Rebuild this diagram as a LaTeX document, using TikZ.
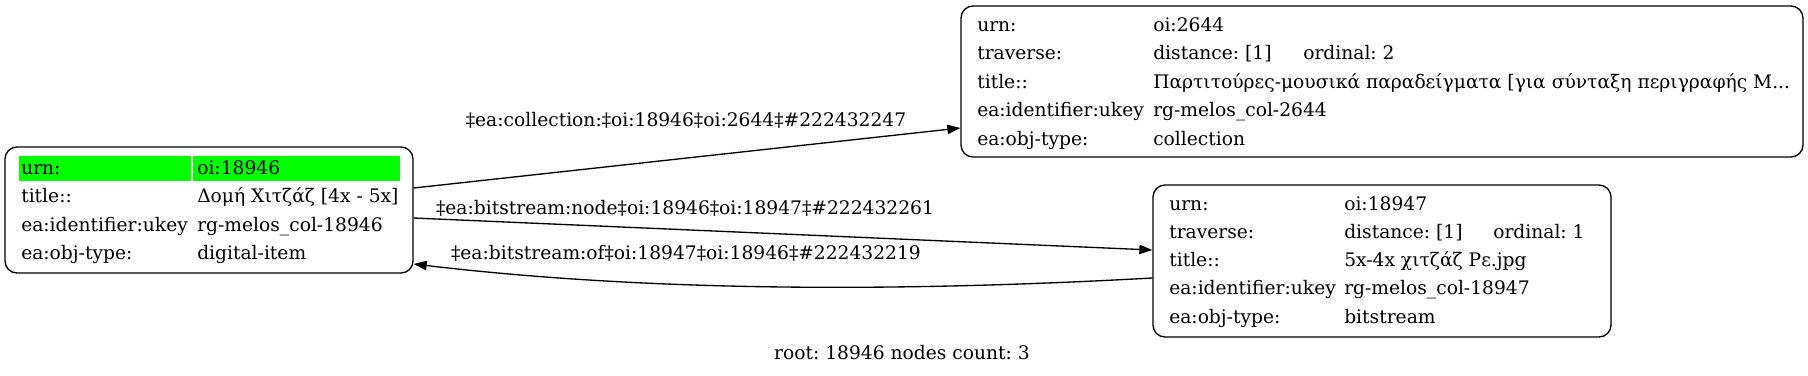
\documentclass[tikz,border=0pt]{standalone}
\usepackage{fontspec}
\setmainfont{DejaVu Serif}
\usetikzlibrary{arrows.meta,calc}
\newcommand\gvfs{\fontsize{14pt}{16pt}\selectfont}
\definecolor{gvgreen}{HTML}{00FF00}
\frenchspacing
\tikzset{
  recbox/.style={draw, line width=1pt, rounded corners=9pt, inner sep=0pt},
  cell/.style={anchor=base west, inner sep=0pt, font=\gvfs},
  elabel/.style={anchor=base, inner sep=0pt, font=\gvfs},
  edge/.style={line width=1pt, -{Triangle[length=9.75pt,width=7pt]}},
}
\begin{document}
\begin{tikzpicture}[x=0.75pt,y=-0.75pt]
\useasboundingbox (0,0) rectangle (1808,375);
% boxes
\node[recbox, minimum width=306pt, minimum height=94.5pt] (L) at (209,210) {};
\node[recbox, minimum width=631.5pt, minimum height=113.25pt] (T) at (1382,81.5) {};
\node[recbox, minimum width=343.5pt, minimum height=114pt] (B) at (1382,261) {};
% left box
\fill[gvgreen] (19,156) rectangle (191,181);
\fill[gvgreen] (193,156) rectangle (400,181);
\node[cell] (L1a) at (21,174) {urn:};
\node[cell] (L1b) at (197,174) {oi:18946};
\node[cell] (L2a) at (21,202.5) {title::};
\node[cell] (L2b) at (197,202.5) {Δομή Χιτζάζ [4x - 5x]};
\node[cell] (L3a) at (21,231) {ea:identifier:ukey};
\node[cell] (L3b) at (197,231) {rg-melos\_col-18946};
\node[cell] (L4a) at (21,259) {ea:obj-type:};
\node[cell] (L4b) at (197,259) {digital-item};
% top box
\node[cell] (T1a) at (977,31) {urn:};
\node[cell] (T1b) at (1153,31) {oi:2644};
\node[cell] (T2a) at (977,59.5) {traverse:};
\node[cell] (T2b) at (1153,59.5) {distance: [1]};
\node[cell] (T2c) at (1303,59.5) {ordinal: 2};
\node[cell] (T3a) at (977,88) {title::};
\node[cell] (T3b) at (1153,88) {Παρτιτούρες-μουσικά παραδείγματα [για σύνταξη περιγραφής Μ...};
\node[cell] (T4a) at (977,116.5) {ea:identifier:ukey};
\node[cell] (T4b) at (1153,116.5) {rg-melos\_col-2644};
\node[cell] (T5a) at (977,145) {ea:obj-type:};
\node[cell] (T5b) at (1153,145) {collection};
% bottom box
\node[cell] (B1a) at (1169,210) {urn:};
\node[cell] (B1b) at (1344,210) {oi:18947};
\node[cell] (B2a) at (1169,238) {traverse:};
\node[cell] (B2b) at (1344,238) {distance: [1]};
\node[cell] (B2c) at (1493,238) {ordinal: 1};
\node[cell] (B3a) at (1169,266.5) {title::};
\node[cell] (B3b) at (1344,266.5) {5x-4x χιτζάζ Ρε.jpg};
\node[cell] (B4a) at (1169,294.5) {ea:identifier:ukey};
\node[cell] (B4b) at (1344,294.5) {rg-melos\_col-18947};
\node[cell] (B5a) at (1169,323) {ea:obj-type:};
\node[cell] (B5b) at (1344,323) {bitstream};
% edges
\draw[edge] (L.east |- 0,188) -- (T.west |- 0,128);
\draw[edge] (L.east |- 0,218) -- (B.west |- 0,250);
\draw[edge] (B.west |- 0,278) .. controls (900,292) and (650,292) .. (L.east |- 0,264);
% edge labels
\node[elabel] (E1) at (686,126) {‡ea:collection:‡oi:18946‡oi:2644‡\#222432247};
\node[elabel] (E2) at (685,214) {‡ea:bitstream:node‡oi:18946‡oi:18947‡\#222432261};
\node[elabel] (E3) at (686,259) {‡ea:bitstream:of‡oi:18947‡oi:18946‡\#222432219};
% footer
\node[elabel] (F) at (902,359) {root: 18946 nodes count: 3};
\end{tikzpicture}
\end{document}
